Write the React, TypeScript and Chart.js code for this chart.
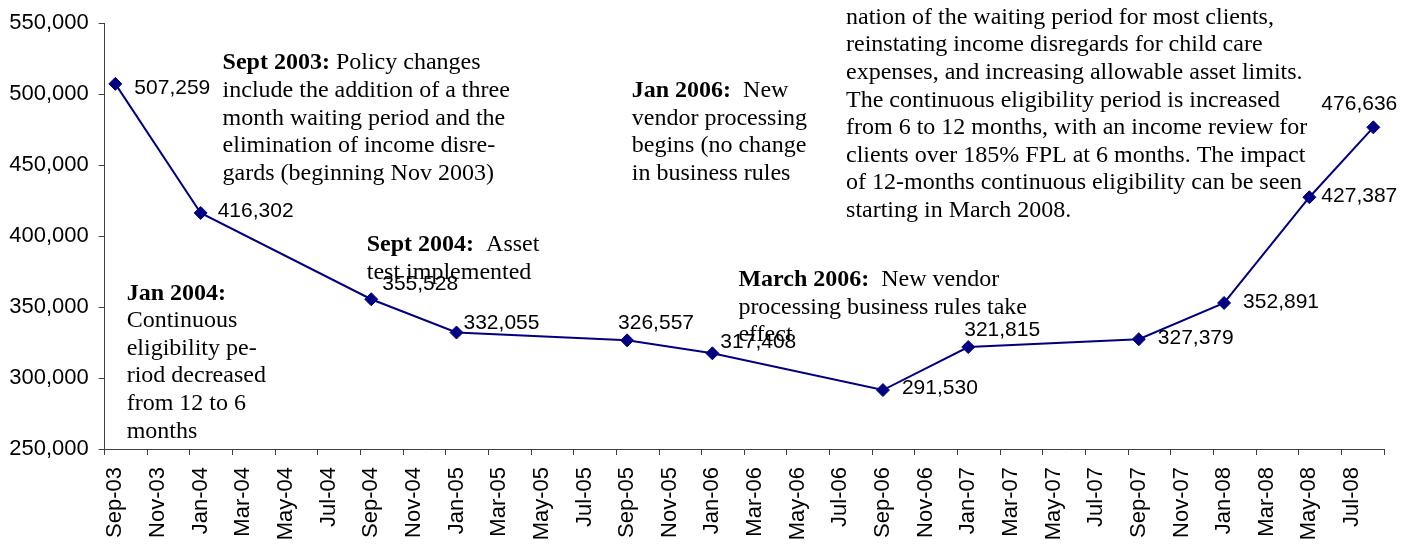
import React, { useEffect, useRef } from 'react';
import { Chart, registerables } from 'chart.js';

Chart.register(...registerables);

// ---------- Data ----------
const months: string[] = [
  'Sep-03', 'Oct-03', 'Nov-03', 'Dec-03',
  'Jan-04', 'Feb-04', 'Mar-04', 'Apr-04', 'May-04', 'Jun-04', 'Jul-04', 'Aug-04', 'Sep-04', 'Oct-04', 'Nov-04', 'Dec-04',
  'Jan-05', 'Feb-05', 'Mar-05', 'Apr-05', 'May-05', 'Jun-05', 'Jul-05', 'Aug-05', 'Sep-05', 'Oct-05', 'Nov-05', 'Dec-05',
  'Jan-06', 'Feb-06', 'Mar-06', 'Apr-06', 'May-06', 'Jun-06', 'Jul-06', 'Aug-06', 'Sep-06', 'Oct-06', 'Nov-06', 'Dec-06',
  'Jan-07', 'Feb-07', 'Mar-07', 'Apr-07', 'May-07', 'Jun-07', 'Jul-07', 'Aug-07', 'Sep-07', 'Oct-07', 'Nov-07', 'Dec-07',
  'Jan-08', 'Feb-08', 'Mar-08', 'Apr-08', 'May-08', 'Jun-08', 'Jul-08', 'Aug-08',
];

const pointMonths: string[] = [
  'Sep-03', 'Jan-04', 'Sep-04', 'Jan-05', 'Sep-05', 'Jan-06',
  'Sep-06', 'Jan-07', 'Sep-07', 'Jan-08', 'May-08', 'Aug-08',
];

const enrollment: number[] = [
  507259, 416302, 355528, 332055, 326557, 317408,
  291530, 321815, 327379, 352891, 427387, 476636,
];

const yTicks: number[] = [250000, 300000, 350000, 400000, 450000, 500000, 550000];

// ---------- Annotation text ----------
const noteHeads: string[] = ['Sept 2003:', 'Jan 2004:', 'Sept 2004:', 'Jan 2006:', 'March 2006:', ''];
const noteLines: string[][] = [
  [' Policy changes', 'include the addition of a three', 'month waiting period and the', 'elimination of income disre-', 'gards (beginning Nov 2003)'],
  ['', 'Continuous', 'eligibility pe-', 'riod decreased', 'from 12 to 6', 'months'],
  ['  Asset', 'test implemented'],
  ['  New', 'vendor processing', 'begins (no change', 'in business rules'],
  ['  New vendor', 'processing business rules take', 'effect'],
  [
    'nation of the waiting period for most clients,',
    'reinstating income disregards for child care',
    'expenses, and increasing allowable asset limits.',
    'The continuous eligibility period is increased',
    'from 6 to 12 months, with an income review for',
    'clients over 185% FPL at 6 months. The impact',
    'of 12-months continuous eligibility can be seen',
    'starting in March 2008.',
  ],
];
// anchor of each note (fractional category index, value) = left edge / first line
const noteAnchorX: number[] = [5.03, 0.53, 11.79, 24.22, 29.22, 34.27];
const noteAnchorY: number[] = [521900, 359700, 393900, 502300, 369100, 554000];

// ---------- Styles ----------
const SANS = '"Liberation Sans", Arial, sans-serif';
const SERIF = '"Liberation Serif", "Times New Roman", serif';
const NAVY = '#000080';
const AXIS = '#404040';
const labelOffsets: number[][] = [
  [19, 4], [17, -2], [11, -15], [7, -9], [-9, -17], [8, -11],
  [19, -1.5], [-4, -17], [19, -0.6], [19, -1], [12, -1], [-52, -23],
];

const fmt = (v: number) => v.toLocaleString('en-US');

const textPlugin = {
  id: 'textPlugin',
  afterDatasetsDraw(chart: any) {
    const ctx = chart.ctx as CanvasRenderingContext2D;
    const meta = chart.getDatasetMeta(0);
    const xs = chart.scales.x;
    const ys = chart.scales.y;
    ctx.save();
    ctx.fillStyle = '#000';
    ctx.textBaseline = 'middle';
    ctx.textAlign = 'left';

    // notes
    const lh = 27.6;
    noteHeads.forEach((head, n) => {
      const x0 = xs.getPixelForValue(noteAnchorX[n]);
      const y0 = ys.getPixelForValue(noteAnchorY[n]);
      const lines = noteLines[n];
      lines.forEach((line, li) => {
        let x = x0;
        const y = y0 + li * lh;
        if (li === 0 && head) {
          ctx.font = `bold 24px ${SERIF}`;
          ctx.fillText(head, x, y);
          x += ctx.measureText(head).width;
        }
        ctx.font = `24px ${SERIF}`;
        if (line) ctx.fillText(line, x, y);
      });
    });

    // data labels
    ctx.font = `21px ${SANS}`;
    meta.data.forEach((pt: any, i: number) => {
      const [dx, dy] = labelOffsets[i];
      ctx.fillText(fmt(enrollment[i]), pt.x + dx, pt.y + dy);
    });
    ctx.restore();
  },
};

export default function App() {
  const ref = useRef<HTMLCanvasElement | null>(null);

  useEffect(() => {
    if (!ref.current) return;
    const chart = new Chart(ref.current, {
      type: 'line',
      data: {
        labels: months,
        datasets: [
          {
            data: pointMonths.map((m, i) => ({ x: m, y: enrollment[i] })),
            borderColor: NAVY,
            backgroundColor: NAVY,
            borderWidth: 2,
            tension: 0,
            pointStyle: 'rectRot',
            pointRadius: 6.5,
            pointBorderWidth: 1,
            pointBackgroundColor: NAVY,
            pointBorderColor: NAVY,
            spanGaps: true,
          },
        ],
      },
      options: {
        animation: false,
        responsive: false,
        events: [],
        layout: { padding: { top: 19, right: 34, left: 0, bottom: 0 } },
        plugins: {
          legend: { display: false },
          tooltip: { enabled: false },
          title: { display: false },
        },
        scales: {
          x: {
            type: 'category',
            labels: months,
            offset: true,
            grid: {
              offset: true,
              drawOnChartArea: false,
              drawTicks: true,
              tickLength: 6,
              tickWidth: 1,
              tickColor: (c: any) =>
                c.index === undefined || c.index % 2 === 0 ? AXIS : 'rgba(0,0,0,0)',
            },
            border: { display: true, color: AXIS, width: 1 },
            ticks: {
              autoSkip: false,
              minRotation: 90,
              maxRotation: 90,
              padding: 12,
              color: '#000',
              font: { family: SANS, size: 22 },
              callback: (_v: any, i: number) => (i % 2 === 0 ? months[i] : ''),
            },
            afterFit: (s: any) => {
              s.height = 101;
            },
          },
          y: {
            min: yTicks[0],
            max: yTicks[yTicks.length - 1],
            afterBuildTicks: (s: any) => {
              s.ticks = yTicks.map((v) => ({ value: v }));
            },
            grid: {
              drawOnChartArea: false,
              drawTicks: true,
              tickLength: 6,
              color: AXIS,
            },
            border: { display: true, color: AXIS, width: 1 },
            ticks: {
              padding: 10,
              color: '#000',
              font: { family: SANS, size: 22 },
              callback: (v: any) => fmt(Number(v)),
            },
            afterFit: (s: any) => {
              s.width = 104.7;
            },
          },
        },
      },
      plugins: [textPlugin],
    });
    return () => chart.destroy();
  }, []);

  return (
    <div style={{ position: 'absolute', left: 0, top: 0, width: 1418, height: 550, background: '#fff' }}>
      <canvas ref={ref} width={1418} height={550} />
    </div>
  );
}
